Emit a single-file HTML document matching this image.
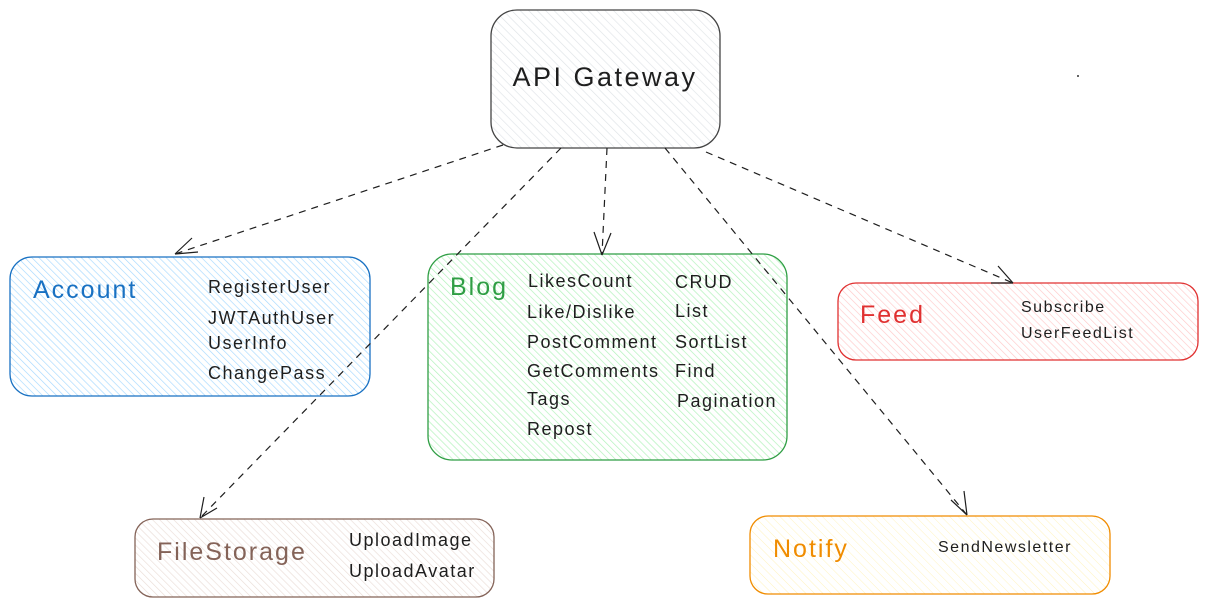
<!DOCTYPE html>
<html><head><meta charset="utf-8"><style>
html,body{margin:0;padding:0;background:#fff;}
svg{display:block}
text{font-family:"Liberation Sans",sans-serif;}
.it{letter-spacing:1.5px}
.tt{letter-spacing:2px}
</style></head><body>
<svg width="1208" height="607" viewBox="0 0 1208 607" xmlns="http://www.w3.org/2000/svg">
<defs>
<pattern id="hg" width="6" height="6" patternUnits="userSpaceOnUse" patternTransform="rotate(-45)"><line x1="0" y1="0" x2="0" y2="6" stroke="#dfe3e7" stroke-width="1.3"/></pattern>
<pattern id="hb" width="5" height="5" patternUnits="userSpaceOnUse" patternTransform="rotate(-45)"><line x1="0" y1="0" x2="0" y2="5" stroke="#a5d8ff" stroke-width="1.3"/></pattern>
<pattern id="hgr" width="5" height="5" patternUnits="userSpaceOnUse" patternTransform="rotate(-45)"><line x1="0" y1="0" x2="0" y2="5" stroke="#b2f2bb" stroke-width="1.4"/></pattern>
<pattern id="hr" width="5" height="5" patternUnits="userSpaceOnUse" patternTransform="rotate(-45)"><line x1="0" y1="0" x2="0" y2="5" stroke="#ffc9c9" stroke-width="1.3"/></pattern>
<pattern id="hbr" width="5" height="5" patternUnits="userSpaceOnUse" patternTransform="rotate(-45)"><line x1="0" y1="0" x2="0" y2="5" stroke="#eaddd7" stroke-width="1.3"/></pattern>
<pattern id="ho" width="6" height="6" patternUnits="userSpaceOnUse" patternTransform="rotate(-45)"><line x1="0" y1="0" x2="0" y2="6" stroke="#fff3bf" stroke-width="1"/></pattern>
</defs>

<rect x="491" y="10" width="229" height="138" rx="26" fill="url(#hg)" stroke="#444" stroke-width="1.3"/>
<text x="605" y="86" font-size="27" text-anchor="middle" fill="#1e1e1e" style="letter-spacing:2.5px">API Gateway</text>
<circle cx="1078" cy="76" r="1" fill="#333"/>

<rect x="10" y="257" width="360" height="139" rx="22" fill="url(#hb)" stroke="#1971c2" stroke-width="1.3"/>
<text x="33" y="298" font-size="25" fill="#1971c2" class="tt">Account</text>
<g font-size="18" fill="#1e1e1e" class="it">
<text x="208" y="293">RegisterUser</text>
<text x="208" y="324">JWTAuthUser</text>
<text x="208" y="349">UserInfo</text>
<text x="208" y="379">ChangePass</text>
</g>

<rect x="428" y="254" width="359" height="206" rx="24" fill="url(#hgr)" stroke="#2f9e44" stroke-width="1.3"/>
<text x="450" y="295" font-size="25" fill="#2f9e44" class="tt">Blog</text>
<g font-size="18" fill="#1e1e1e" class="it">
<text x="528" y="287">LikesCount</text>
<text x="527" y="318">Like/Dislike</text>
<text x="527" y="348">PostComment</text>
<text x="527" y="377">GetComments</text>
<text x="527" y="405">Tags</text>
<text x="527" y="435">Repost</text>
<text x="675" y="288">CRUD</text>
<text x="675" y="317">List</text>
<text x="675" y="348">SortList</text>
<text x="675" y="377">Find</text>
<text x="677" y="407">Pagination</text>
</g>

<rect x="838" y="283" width="360" height="77" rx="18" fill="url(#hr)" stroke="#e03131" stroke-width="1.3"/>
<text x="860" y="323" font-size="25" fill="#e03131" class="tt">Feed</text>
<g font-size="16" fill="#1e1e1e" class="it">
<text x="1021" y="312">Subscribe</text>
<text x="1021" y="338">UserFeedList</text>
</g>

<rect x="135" y="519" width="359" height="78" rx="18" fill="url(#hbr)" stroke="#846358" stroke-width="1.3"/>
<text x="157" y="560" font-size="25" fill="#846358" class="tt">FileStorage</text>
<g font-size="18" fill="#1e1e1e" class="it">
<text x="349" y="546">UploadImage</text>
<text x="349" y="577">UploadAvatar</text>
</g>

<rect x="750" y="516" width="360" height="78" rx="18" fill="url(#ho)" stroke="#f08c00" stroke-width="1.3"/>
<text x="773" y="557" font-size="25" fill="#f08c00" class="tt">Notify</text>
<text x="938" y="552" font-size="16" fill="#1e1e1e" class="it">SendNewsletter</text>

<g stroke="#1e1e1e" stroke-width="1.2" fill="none">
<path d="M503 145 L175 254" stroke-dasharray="7 6"/>
<path d="M175 254 L198 252 M175 254 L192 238"/>
<path d="M561 148 L200 518" stroke-dasharray="7 6"/>
<path d="M200 518 L204 497 M200 518 L217 508"/>
<path d="M607 148 L602 255" stroke-dasharray="7 6"/>
<path d="M602 255 L594 232 M602 255 L611 233"/>
<path d="M665 148 L967 515" stroke-dasharray="7 6"/>
<path d="M967 515 L951 500 M967 515 L964 491"/>
<path d="M706 152 L1013 283" stroke-dasharray="7 6"/>
<path d="M1013 283 L991 283 M1013 283 L998 266"/>
</g>
</svg>
</body></html>
